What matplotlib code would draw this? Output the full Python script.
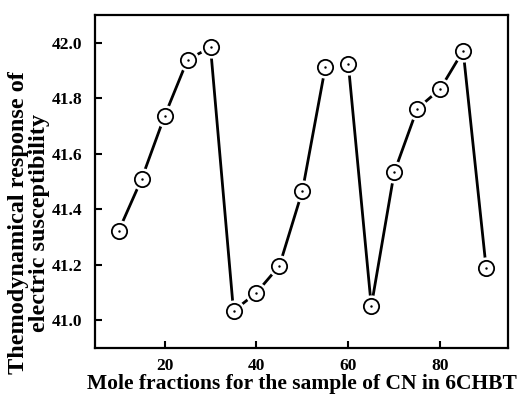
import matplotlib
matplotlib.use("Agg")
import matplotlib.pyplot as plt
import numpy as np

# mole fraction of CN (%) and response values
mole_frac = [10, 15, 20, 25, 30, 35, 40, 45, 50, 55, 60, 65, 70, 75, 80, 85, 90]
response = [41.322, 41.509, 41.736, 41.939, 41.983, 41.033, 41.099, 41.196, 41.466,
            41.913, 41.923, 41.050, 41.533, 41.762, 41.833, 41.971, 41.189]
# the curve is broken between 55 and 60
break_after = 55

plt.rcParams['font.family'] = ['Liberation Serif', 'DejaVu Serif']
plt.rcParams['font.weight'] = 'bold'

fig = plt.figure(figsize=(5.18, 3.94), dpi=100)
ax = fig.add_axes([0.183, 0.117, 0.798, 0.845])

x = np.array(mole_frac, dtype=float)
y = np.array(response)
cut = mole_frac.index(break_after) + 1
for xs, ys in [(x[:cut], y[:cut]), (x[cut:], y[cut:])]:
    ax.plot(xs, ys, color='black', lw=2.0, zorder=1, solid_capstyle='butt')

# white halo so lines stop short of the circles
ax.plot(x, y, 'o', ms=16, mfc='white', mec='none', ls='none', zorder=2)
ax.plot(x, y, 'o', ms=11, mfc='white', mec='black', mew=1.3, ls='none', zorder=3)
ax.plot(x, y, '.', ms=1.5, color='black', ls='none', zorder=4)

ax.set_xlim(4.8, 94.8)
ax.set_ylim(40.9, 42.1)
ax.set_xticks([20, 40, 60, 80])
ax.set_yticks([41.0, 41.2, 41.4, 41.6, 41.8, 42.0])
ax.yaxis.set_major_formatter(matplotlib.ticker.FormatStrFormatter('%.1f'))
ax.tick_params(direction='in', length=5, width=1.5, labelsize=12.5)
ax.tick_params(axis='y', pad=9)
ax.tick_params(axis='x', pad=7)
for lab in ax.get_xticklabels() + ax.get_yticklabels():
    lab.set_fontweight('bold')
for sp in ax.spines.values():
    sp.set_linewidth(1.6)

ax.set_xlabel('Mole fractions for the sample of CN in 6CHBT', fontsize=15.5,
              fontweight='bold', labelpad=0)
ax.set_ylabel('Themodynamical response of\nelectric susceptibility', fontsize=17.5,
              fontweight='bold', linespacing=1.02)
# label sits lower than the axes centre in the original
ax.yaxis.set_label_coords(-0.108, 0.375)

fig.savefig('out.png', dpi=100)
